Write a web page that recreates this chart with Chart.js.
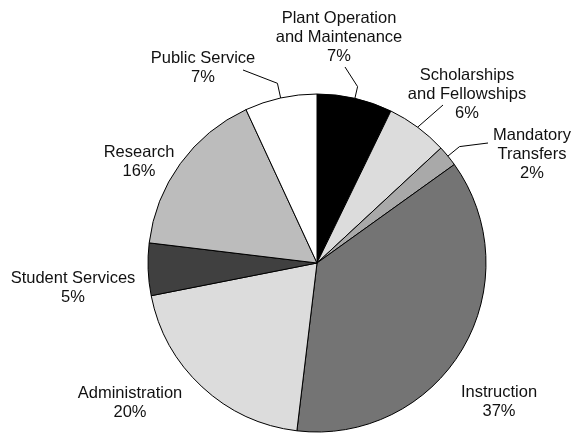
<!DOCTYPE html>
<html><head><meta charset="utf-8">
<script src="https://cdn.jsdelivr.net/npm/chart.js@4/dist/chart.umd.min.js"></script>
<style>html,body{margin:0;padding:0;background:#fff}#wrap{width:572px;height:433px}</style>
</head><body><div id="wrap"><canvas id="c" width="572" height="433"></canvas></div>
<script>
const categories = ["Plant Operation and Maintenance","Scholarships and Fellowships","Mandatory Transfers","Instruction","Administration","Student Services","Research","Public Service"];
const shares = [7.2, 5.9, 2.0, 36.8, 20.0, 5.0, 16.2, 6.9];
const percentLabels = ["7%","6%","2%","37%","20%","5%","16%","7%"];
const labelLines = [["Plant Operation","and Maintenance"],["Scholarships","and Fellowships"],["Mandatory","Transfers"],["Instruction"],["Administration"],["Student Services"],["Research"],["Public Service"]];
const sliceColors = ["#000000","#dcdcdc","#a9a9a9","#747474","#dcdcdc","#404040","#bcbcbc","#ffffff"];

// label text anchors relative to pie centre (x of text centre, baseline of first line)
const labelLayout = [
  {dx: 22, dy: -240, leader: {elbow: 12, end: [28, -196]}},
  {dx: 150, dy: -183, leader: {elbow: 0, end: [126, -158]}},
  {dx: 215, dy: -123, leader: {elbow: 15, end: [171, -120]}},
  {dx: 182, dy: 134},
  {dx: -187, dy: 135},
  {dx: -244, dy: 20},
  {dx: -178, dy: -106},
  {dx: -114, dy: -200, leader: {elbow: 15, end: [-74, -193]}}
];

const labelPlugin = {
  id: 'pieLabels',
  afterDraw(chart) {
    const ctx = chart.ctx;
    const meta = chart.getDatasetMeta(0);
    ctx.save();
    ctx.font = '16.5px "Liberation Sans", Arial, sans-serif';
    ctx.fillStyle = '#111';
    ctx.textAlign = 'center';
    ctx.textBaseline = 'alphabetic';
    meta.data.forEach((arc, i) => {
      const p = arc.getProps(['x','y','startAngle','endAngle','outerRadius'], true);
      const cx = p.x, cy = p.y, r = p.outerRadius;
      const mid = (p.startAngle + p.endAngle) / 2;
      const L = labelLayout[i];
      const lines = labelLines[i].concat([percentLabels[i]]);
      lines.forEach((t, k) => ctx.fillText(t, cx + L.dx, cy + L.dy + k * 19));
      if (L.leader) {
        ctx.beginPath();
        ctx.strokeStyle = '#000';
        ctx.lineWidth = 1;
        ctx.moveTo(cx + Math.cos(mid) * r, cy + Math.sin(mid) * r);
        if (L.leader.elbow) {
          ctx.lineTo(cx + Math.cos(mid) * (r + L.leader.elbow), cy + Math.sin(mid) * (r + L.leader.elbow));
        }
        ctx.lineTo(cx + L.leader.end[0], cy + L.leader.end[1]);
        ctx.stroke();
      }
    });
    ctx.restore();
  }
};

new Chart(document.getElementById('c'), {
  type: 'pie',
  data: {
    labels: categories,
    datasets: [{
      data: shares,
      backgroundColor: sliceColors,
      borderColor: '#000',
      borderWidth: 1
    }]
  },
  options: {
    responsive: false,
    animation: false,
    devicePixelRatio: 1,
    radius: 169,
    layout: {padding: {left: 62, right: 0, top: 93, bottom: 0}},
    plugins: {legend: {display: false}, tooltip: {enabled: false}}
  },
  plugins: [labelPlugin]
});
</script>
</body></html>
